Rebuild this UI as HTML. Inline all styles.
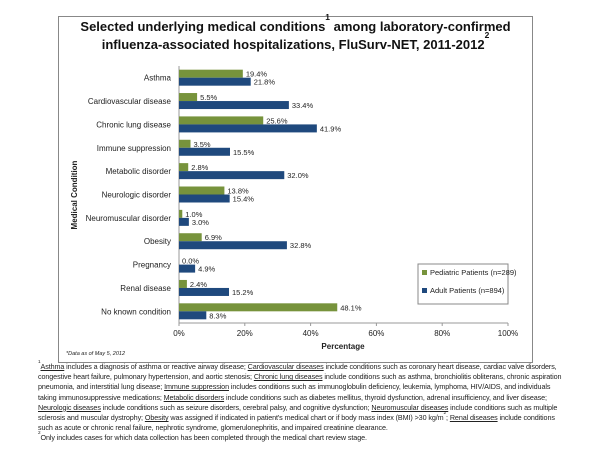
<!DOCTYPE html>
<html><head><meta charset="utf-8"><style>
body{margin:0;width:600px;height:450px;background:#fff;font-family:"Liberation Sans",sans-serif;overflow:hidden}
#frame{position:absolute;left:58px;top:16px;width:475px;height:347px;border:1px solid #888;box-sizing:border-box}
#title{position:absolute;left:58px;top:18px;width:475px;text-align:center;font-weight:bold;font-size:13px;line-height:18px;color:#111}
sup{font-size:0.65em;line-height:0;position:relative;top:-0.1em;vertical-align:top}
#notes{position:absolute;left:38px;top:362px;width:530px;font-size:7.2px;line-height:10.2px;color:#222;letter-spacing:-0.1px}
#notes u{text-decoration:underline}
svg{position:absolute;left:0;top:0}
</style></head><body>
<div id="frame"></div>
<div id="title">Selected underlying medical conditions<sup>1</sup> among laboratory-confirmed<br>influenza-associated hospitalizations, FluSurv-NET, 2011-2012<sup>2</sup></div>
<svg id="chart" width="600" height="450"></svg>
<div id="notes"><sup>1</sup><u>Asthma</u> includes a diagnosis of asthma or reactive airway disease; <u>Cardiovascular diseases</u> include conditions such as coronary heart disease, cardiac valve disorders, congestive heart failure, pulmonary hypertension, and aortic stenosis; <u>Chronic lung diseases</u> include conditions such as asthma, bronchiolitis obliterans, chronic aspiration pneumonia, and interstitial lung disease; <u>Immune suppression</u> includes conditions such as immunoglobulin deficiency, leukemia, lymphoma, HIV/AIDS, and individuals taking immunosuppressive medications; <u>Metabolic disorders</u> include conditions such as diabetes mellitus, thyroid dysfunction, adrenal insufficiency, and liver disease; <u>Neurologic diseases</u> include conditions such as seizure disorders, cerebral palsy, and cognitive dysfunction; <u>Neuromuscular diseases</u> include conditions such as multiple sclerosis and muscular dystrophy; <u>Obesity</u> was assigned if indicated in patient's medical chart or if body mass index (BMI) &gt;30 kg/m<sup>2</sup>; <u>Renal diseases</u> include conditions such as acute or chronic renal failure, nephrotic syndrome, glomerulonephritis, and impaired creatinine clearance.<br><sup>2</sup>Only includes cases for which data collection has been completed through the medical chart review stage.</div>
<script>
const categories=["Asthma","Cardiovascular disease","Chronic lung disease","Immune suppression","Metabolic disorder","Neurologic disorder","Neuromuscular disorder","Obesity","Pregnancy","Renal disease","No known condition"];
const pediatric=[19.4,5.5,25.6,3.5,2.8,13.8,1.0,6.9,0.0,2.4,48.1];
const adult=[21.8,33.4,41.9,15.5,32.0,15.4,3.0,32.8,4.9,15.2,8.3];
const ticks=[0,20,40,60,80,100];
const NS="http://www.w3.org/2000/svg";
const svg=document.getElementById('chart');
const x0=179,x1=508,yTop=66,yBot=323;
const band=(yBot-yTop)/categories.length;
const xs=v=>x0+(x1-x0)*v/100;
const yb=i=>yTop+band*i;
function mk(t,a,txt){const e=document.createElementNS(NS,t);for(const k in a)e.setAttribute(k,a[k]);if(txt!==undefined)e.textContent=txt;svg.appendChild(e);return e;}
const ax=mk('line',{x1:x0,y1:yTop,x2:x0,y2:yBot,stroke:'#999'});


const bx=mk('line',{x1:x0,y1:yBot,x2:x1,y2:yBot,stroke:'#999'});


ticks.forEach(t=>{
  const tk=mk('line',{x1:xs(t),y1:yBot,x2:xs(t),y2:yBot+3,stroke:'#999'});
  
  
  const l=mk('text',{x:xs(t),y:yBot+13,'font-size':8,'text-anchor':'middle',fill:'#222'},t+'%');
  
  
});
categories.forEach((c,i)=>{
  const yc=yb(i)+band/2;
  const l=mk('text',{x:x0-8,y:yc+3,'font-size':8,'text-anchor':'end',fill:'#222'},c);
  
  
  const g=mk('rect',{x:x0,y:yc-8,width:xs(pediatric[i])-x0,height:8,fill:'#77933C'});
  
  
  const b=mk('rect',{x:x0,y:yc,width:xs(adult[i])-x0,height:8,fill:'#1F497D'});
  
  
  const gl=mk('text',{x:xs(pediatric[i])+3,y:yc-1,'font-size':7.5,fill:'#222'},pediatric[i].toFixed(1)+'%');
  
  
  const bl=mk('text',{x:xs(adult[i])+3,y:yc+7,'font-size':7.5,fill:'#222'},adult[i].toFixed(1)+'%');
  
  
});
const yt=mk('text',{x:0,y:0,'font-size':8,'font-weight':'bold','text-anchor':'middle',fill:'#222',transform:'translate(77,195) rotate(-90)'},'Medical Condition');


const xt=mk('text',{x:343,y:349,'font-size':8,'font-weight':'bold','text-anchor':'middle',fill:'#222'},'Percentage');


const dn=mk('text',{x:66,y:355,'font-size':5.5,'font-style':'italic',fill:'#222'},'*Data as of May 5, 2012');


const lg=mk('rect',{x:418,y:264,width:90,height:40,fill:'#fff',stroke:'#888'});


[['#77933C','Pediatric Patients (n=289)',275],['#1F497D','Adult Patients (n=894)',293]].forEach(([c,t,y])=>{
  const s=mk('rect',{x:422,y:y-5,width:5,height:5,fill:c});
  
  
  const l=mk('text',{x:430,y:y,'font-size':7.5,fill:'#222'},t);
  
  
});
</script>
</body></html>
